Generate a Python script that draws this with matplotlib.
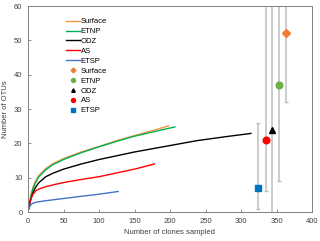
import numpy as np
import matplotlib
matplotlib.use("Agg")
from matplotlib import pyplot as plt

plt.rcParams["font.family"] = ["Liberation Sans", "DejaVu Sans"]

# rarefaction curves (clones sampled, OTUs)
surface_x = [1, 2, 3, 5, 7, 10, 15, 25, 35, 50, 75, 100, 125, 150, 175, 198]
surface_y = [1, 2.5, 3.8, 5.8, 7.2, 8.8, 10.6, 12.7, 14.1, 15.6, 17.5, 19.1, 20.8, 22.3, 23.7, 25.1]
etnp_x = [1, 2, 3, 5, 7, 10, 15, 25, 35, 50, 75, 100, 125, 150, 175, 207]
etnp_y = [1, 2.3, 3.5, 5.3, 6.8, 8.3, 10.2, 12.3, 13.8, 15.3, 17.3, 19.0, 20.6, 22.1, 23.3, 24.8]
odz_x = [1, 2, 3, 5, 7, 10, 15, 25, 35, 50, 75, 100, 150, 190, 238, 280, 314]
odz_y = [1, 2.0, 2.9, 4.4, 5.6, 7.0, 8.5, 10.3, 11.3, 12.5, 14.0, 15.3, 17.5, 19.0, 20.8, 22.0, 22.9]
as_x = [1, 2, 3, 5, 7, 11, 15, 25, 35, 50, 75, 100, 125, 152, 178]
as_y = [1, 2.2, 3.2, 4.3, 5.2, 6.2, 6.7, 7.4, 7.9, 8.6, 9.5, 10.3, 11.4, 12.6, 14.0]
etsp_x = [1, 2, 3, 5, 7, 12, 25, 40, 50, 75, 100, 127]
etsp_y = [1, 1.4, 1.8, 2.3, 2.6, 2.9, 3.3, 3.7, 3.95, 4.6, 5.2, 6.0]

# estimates with ranges
est_names = ["Surface", "ETNP", "ODZ", "AS", "ETSP"]
est_x = [364, 354, 344, 335, 324]
est_y = [52, 37, 24, 21, 7]
est_lo = [32, 9, -5, 6, 1]
est_hi = [80, 80, 80, 80, 26]

line_colors = ["#F79646", "#00B050", "#000000", "#FF0000", "#4472C4"]
mark_colors = ["#ED7D31", "#70AD47", "#000000", "#FF0000", "#0070C0"]
markers = ["D", "o", "^", "o", "s"]
msizes = [4.0, 4.8, 4.2, 4.8, 4.6]

fig = plt.figure(figsize=(3.2, 2.41), dpi=100)
ax = fig.add_axes([0.0875, 0.12, 0.8875, 0.855])

curves = [(surface_x, surface_y), (etnp_x, etnp_y), (odz_x, odz_y),
          (as_x, as_y), (etsp_x, etsp_y)]
for (cx, cy), name, c in zip(curves, est_names, line_colors):
    ax.plot(cx, cy, color=c, lw=1.0, label=name)

for i, name in enumerate(est_names):
    yerr = [[est_y[i] - est_lo[i]], [est_hi[i] - est_y[i]]]
    ax.errorbar([est_x[i]], [est_y[i]], yerr=yerr, fmt="none",
                ecolor="#BFBFBF", elinewidth=1.1, capsize=1.2, zorder=2)
for i, name in enumerate(est_names):
    ax.plot([est_x[i]], [est_y[i]], marker=markers[i], ls="none",
            color=mark_colors[i], ms=msizes[i], label=name, zorder=3)

ax.set_xlim(0, 400)
ax.set_ylim(0, 60)
ax.set_xticks(np.arange(0, 401, 50))
ax.set_yticks(np.arange(0, 61, 10))
ax.tick_params(direction="in", length=2, width=0.6, color="#808080",
               labelsize=5.5, pad=4, labelcolor="#404040")
for s in ax.spines.values():
    s.set_color("#808080")
    s.set_linewidth(0.7)

ax.set_xlabel("Number of clones sampled", fontsize=5.5, color="#404040", labelpad=3)
ax.set_ylabel("Number of OTUs", fontsize=5.5, color="#404040", labelpad=4)

ax.legend(loc="upper left", bbox_to_anchor=(0.12, 0.96), frameon=False,
          fontsize=5.5, handlelength=1.8, handletextpad=0.15,
          labelspacing=0.33, borderpad=0, markerscale=0.6)

fig.savefig("out.png", dpi=100)
